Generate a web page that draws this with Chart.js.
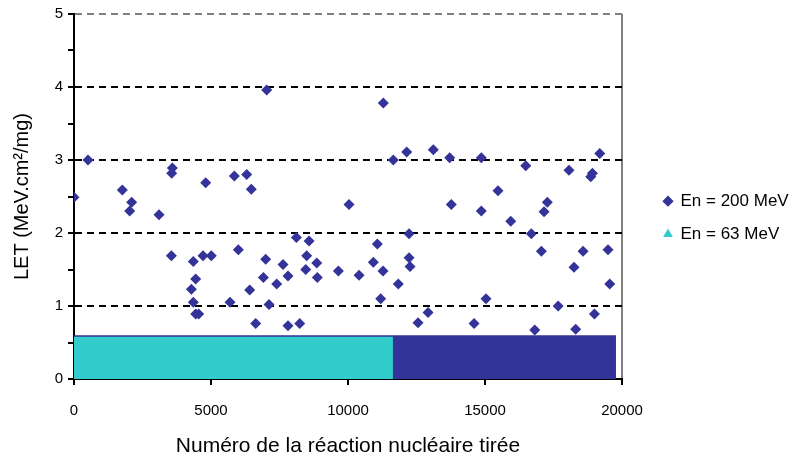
<!DOCTYPE html>
<html>
<head>
<meta charset="utf-8">
<script src="https://cdn.jsdelivr.net/npm/chart.js@4"></script>
<style>
  html, body { margin: 0; padding: 0; background: #fff; }
  #wrap { width: 798px; height: 461px; }
</style>
</head>
<body>
<div id="wrap"><canvas id="letChart" width="798" height="461"></canvas></div>
<script>
// scattered events of the 200 MeV run (reaction number, LET)
var x200 = [0, 511, 1764, 2105, 2032, 3102, 3590, 3565, 4806, 5852, 6302, 6472, 7033, 10037,
  3553, 4355, 4709, 5012, 5998, 4441, 4283, 4355, 4441, 4550, 5694, 6413, 6632, 6997, 6911, 7398,
  7629, 7811, 7118, 7811, 8238, 8115, 8578, 8493, 8457, 8859, 8881, 9648, 10403,
  11290, 11654, 12142, 13114, 13712, 14866, 16487, 18066, 19187, 18859, 18920, 15474, 13771,
  14866, 15939, 17275, 17155, 12228, 16691, 11071, 10925, 11278, 12228, 12264, 11837, 11194,
  12556, 12921, 14600, 15037, 17057, 18578, 19490, 18248, 19552, 17670, 18994, 18309, 16815];
var y200 = [2.49, 3.00, 2.59, 2.42, 2.30, 2.25, 2.89, 2.82, 2.69, 2.78, 2.80, 2.60, 3.96, 2.39,
  1.69, 1.61, 1.69, 1.69, 1.77, 1.37, 1.23, 1.05, 0.89, 0.89, 1.05, 1.22, 0.76, 1.64, 1.39, 1.30,
  1.57, 1.41, 1.02, 0.73, 0.76, 1.94, 1.89, 1.69, 1.50, 1.59, 1.39, 1.48, 1.42,
  3.78, 3.00, 3.11, 3.14, 3.03, 3.03, 2.92, 2.86, 3.09, 2.77, 2.82, 2.58, 2.39,
  2.30, 2.16, 2.42, 2.29, 1.99, 1.99, 1.85, 1.60, 1.48, 1.66, 1.54, 1.30, 1.10,
  0.77, 0.91, 0.76, 1.10, 1.75, 1.75, 1.77, 1.53, 1.30, 1.00, 0.89, 0.68, 0.67];

// dense bands near the bottom (too many events to tell apart)
var band200X = [0, 19780];
var band200Y = [0.60, 0.60];
var band63X = [0, 11640];
var band63Y = [0.58, 0.58];

var seriesLabels = ['En = 200 MeV', 'En = 63 MeV'];
var xTicks = [0, 5000, 10000, 15000, 20000];
var yTicks = [0, 1, 2, 3, 4, 5];

var navy = '#333399';
var cyan = '#33CCCC';

function pts(xs, ys) {
  return xs.map(function (x, i) { return { x: x, y: ys[i] }; });
}

var font = 'Liberation Sans, Arial, sans-serif';

// legend box gets a fixed width, its items are pushed right to leave a gap after the plot
var legendWidth = 176;
var legendShift = 26;
var legendGap = {
  id: 'legendGap',
  beforeUpdate: function (chart) {
    var lg = chart.legend;
    if (!lg || lg._gapPatched) return;
    lg._gapPatched = true;
    var fit = lg.fit;
    lg.fit = function () {
      fit.call(this);
      this.width = legendWidth;
    };
    var draw = lg.draw;
    lg.draw = function () {
      var l = this.left;
      this.left = l + legendShift;
      draw.call(this);
      this.left = l;
    };
  }
};

var ctx = document.getElementById('letChart').getContext('2d');
var chart = new Chart(ctx, {
  type: 'scatter',
  data: {
    datasets: [
      {
        label: seriesLabels[0],
        data: pts(x200, y200),
        pointStyle: 'rectRot',
        pointRadius: 5.5,
        pointHoverRadius: 5.5,
        backgroundColor: navy,
        borderColor: navy,
        borderWidth: 0,
        order: 0
      },
      {
        label: seriesLabels[1],
        data: pts(band63X, band63Y),
        showLine: true,
        fill: 'origin',
        pointRadius: 0,
        pointStyle: 'triangle',
        borderWidth: 0,
        borderColor: cyan,
        backgroundColor: cyan,
        order: 1
      },
      {
        label: 'band200',
        data: pts(band200X, band200Y),
        showLine: true,
        fill: 'origin',
        pointRadius: 0,
        borderWidth: 0,
        borderColor: navy,
        backgroundColor: navy,
        order: 2
      }
    ]
  },
  plugins: [legendGap],
  options: {
    responsive: false,
    animation: false,
    layout: { padding: { left: 10, right: 0, top: 14, bottom: 2 } },
    plugins: {
      tooltip: { enabled: false },
      legend: {
        position: 'right',
        fullSize: false,
        title: {
          display: true,
          text: ' ',
          font: { size: 12 },
          padding: { top: 14, bottom: 14 }
        },
        labels: {
          filter: function (item) { return item.datasetIndex < 2; },
          usePointStyle: true,
          boxWidth: 8,
          boxHeight: 8,
          padding: 16,
          color: '#000',
          font: { family: font, size: 17 }
        }
      }
    },
    scales: {
      x: {
        type: 'linear',
        min: 0,
        max: 20000,
        afterBuildTicks: function (axis) {
          axis.ticks = xTicks.map(function (v) { return { value: v }; });
        },
        afterFit: function (s) { s.height = 80; },
        border: { color: '#000', width: 2 },
        grid: {
          color: function (c) { return c.tick && c.tick.value === 20000 ? '#808080' : 'rgba(0,0,0,0)'; },
          lineWidth: 2,
          tickColor: '#000',
          tickLength: 6
        },
        ticks: {
          color: '#000',
          font: { family: font, size: 15 },
          padding: 17,
          callback: function (v) { return String(v); }
        },
        title: {
          display: true,
          text: 'Numéro de la réaction nucléaire tirée',
          color: '#000',
          font: { family: font, size: 21 },
          padding: { top: 0, bottom: 0 }
        }
      },
      y: {
        min: 0,
        max: 5,
        afterBuildTicks: function (axis) {
          var t = [];
          for (var i = 0; i < yTicks.length; i++) {
            t.push({ value: yTicks[i] });
            if (i < yTicks.length - 1) t.push({ value: yTicks[i] + 0.5 });
          }
          axis.ticks = t;
        },
        afterFit: function (s) { s.width = 64; },
        border: { color: '#000', width: 2, dash: [7, 5] },
        grid: {
          color: function (c) {
            if (!c.tick) return 'rgba(0,0,0,0)';
            var v = c.tick.value;
            if (v === 5) return '#808080';
            if (v === 0 || v % 1 !== 0) return 'rgba(0,0,0,0)';
            return '#000';
          },
          lineWidth: 2,
          tickColor: '#000',
          tickLength: 6
        },
        ticks: {
          color: '#000',
          font: { family: font, size: 15 },
          padding: 5,
          callback: function (v) { return v % 1 === 0 ? String(v) : ''; }
        },
        title: {
          display: true,
          text: 'LET (MeV.cm²/mg)',
          color: '#000',
          font: { family: font, size: 20 },
          padding: { top: 0, bottom: 0 }
        }
      }
    }
  }
});
</script>
</body>
</html>
